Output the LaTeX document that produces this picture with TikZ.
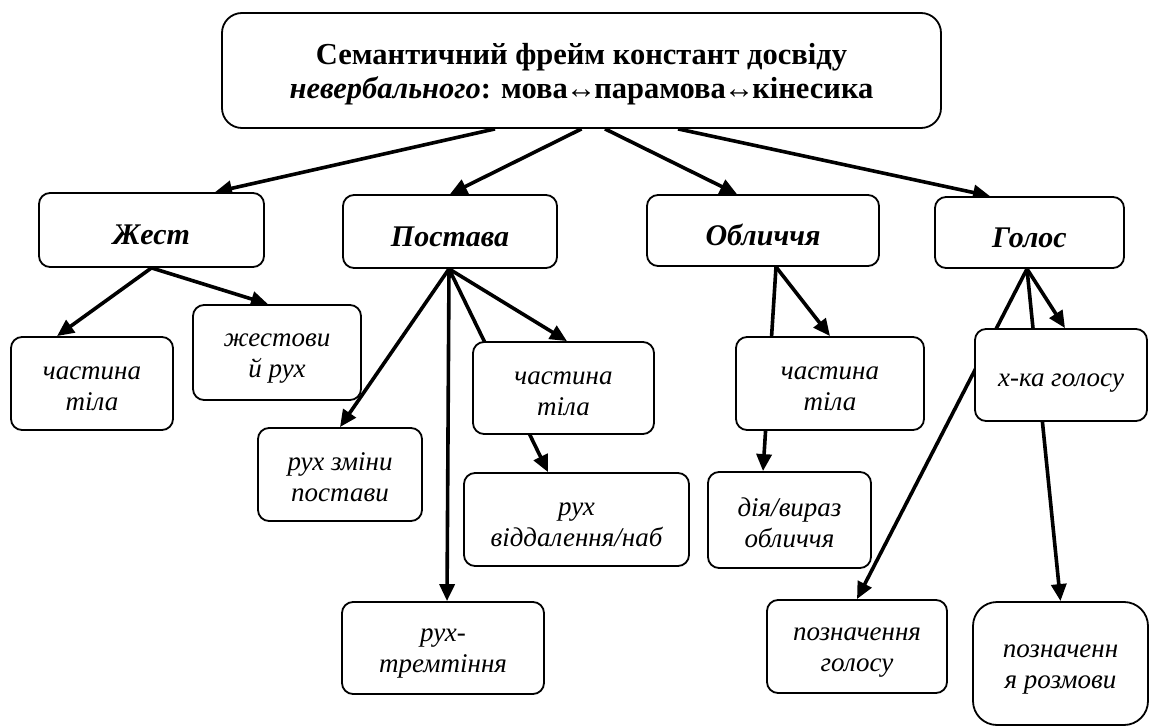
\documentclass[tikz,border=0pt]{standalone}
\usepackage{fontspec}
\setmainfont{Liberation Serif}
\usetikzlibrary{arrows.meta}
\pgfdeclarelayer{background}
\pgfsetlayers{background,main}

% strut that raises the top of a node's text block
\newcommand{\topstrut}[1]{\rule{0pt}{#1}}
% tight two-way arrow between words
\newcommand{\twoway}{\kern-2pt↔\kern-2pt}

\tikzset{
  box/.style={draw=black, line width=1.8pt, fill=white, rounded corners=11pt,
    inner sep=0pt, align=center},
  headbox/.style={box, font=\fontsize{30}{34}\selectfont\bfseries\itshape,
    execute at begin node=\topstrut{30pt}},
  leafbase/.style={box, font=\fontsize{27}{31}\selectfont\itshape},
  leafbox/.style={leafbase, execute at begin node=\topstrut{55pt}},
  leafone/.style={leafbase, execute at begin node=\topstrut{29.5pt}},
  link/.style={line width=3.6pt, -{Triangle[length=17pt,width=15pt]}}
}

\begin{document}
\begin{tikzpicture}[x=1pt,y=-1pt]
\useasboundingbox (0,0) rectangle (1149,727);

% frame title
\node[box, rounded corners=20pt, minimum width=719pt, minimum height=115pt,
      font=\fontsize{30.5}{34}\selectfont\bfseries,
      execute at begin node=\topstrut{63pt}] (T) at (581.5,70.5)
  {Семантичний фрейм констант досвіду\\\textit{невербального}: мова\twoway парамова\twoway кінесика};

% first level
\node[headbox, minimum width=225pt, minimum height=74pt] (J) at (151.5,230) {Жест};
\node[headbox, minimum width=214pt, minimum height=73pt] (P) at (450,231.5) {Постава};
\node[headbox, minimum width=232pt, minimum height=71pt] (O) at (763,230.5) {Обличчя};
\node[headbox, minimum width=189pt, minimum height=71pt] (G) at (1029.5,232.5) {Голос};

% gesture
\node[leafbox, minimum width=162pt, minimum height=93pt] (J1) at (92,383.5) {частина\\тіла};
\node[leafbox, minimum width=168pt, minimum height=95pt] (J2) at (277,352.5) {жестови\\й рух};

% posture
\node[leafbox, minimum width=164pt, minimum height=93pt] (P1) at (340,474.5) {рух зміни\\постави};
\node[leafbox, minimum width=181pt, minimum height=92pt] (P2) at (563.5,388) {частина\\тіла};
\node[leafbox, minimum width=225pt, minimum height=93pt] (P3) at (576.5,519.5) {рух\\віддалення/наб};
\node[leafbox, minimum width=202pt, minimum height=92pt] (P4) at (443,648) {рух-\\тремтіння};

% face
\node[leafbox, minimum width=188pt, minimum height=93pt] (O1) at (830,383.5) {частина\\тіла};
\node[leafbox, minimum width=163pt, minimum height=96pt] (O2) at (789.5,520) {дія/вираз\\обличчя};

% voice
\node[leafone, minimum width=172pt, minimum height=92pt] (G1) at (1061,375) {х-ка голосу};
\node[leafbox, minimum width=180pt, minimum height=93pt] (G2) at (857,646.5) {позначення\\голосу};
\node[leafbox, rounded corners=24pt, minimum width=175pt, minimum height=123pt] (G3) at (1060.5,663.5) {позначенн\\я розмови};

\begin{pgfonlayer}{background}
  % from the frame title
  \draw[link] ([xshift=-86.5pt]T.south) -- ([xshift=63.5pt]J.north);
  \draw[link] (T.south) -- (P.north);
  \draw[link] ([xshift=23.5pt]T.south) -- ([xshift=-26pt]O.north);
  \draw[link] ([xshift=96.5pt]T.south) -- ([xshift=-39.5pt]G.north);
  % gesture
  \draw[link] (J.south) -- ([xshift=-35pt]J1.north);
  \draw[link] (J.south) -- ([xshift=-9pt]J2.north);
  % posture
  \draw[link] ([xshift=-1pt]P.south) -- (P1.north);
  \draw[link] ([xshift=-1pt]P.south) -- ([xshift=4pt]P4.north);
  \draw[link] ([xshift=-1pt]P.south) -- ([xshift=-28.5pt]P3.north);
  \draw[link] ([xshift=-1pt]P.south) -- ([xshift=3.5pt]P2.north);
  % face
  \draw[link] ([xshift=13pt]O.south) -- (O1.north);
  \draw[link] ([xshift=13pt]O.south) -- ([xshift=-26.5pt]O2.north);
  % voice
  \draw[link] ([xshift=-2.5pt]G.south) -- ([xshift=4pt]G1.north);
  \draw[link] ([xshift=-2.5pt]G.south) -- (G2.north);
  \draw[link] ([xshift=-2.5pt]G.south) -- (G3.north);
\end{pgfonlayer}
\end{tikzpicture}
\end{document}
